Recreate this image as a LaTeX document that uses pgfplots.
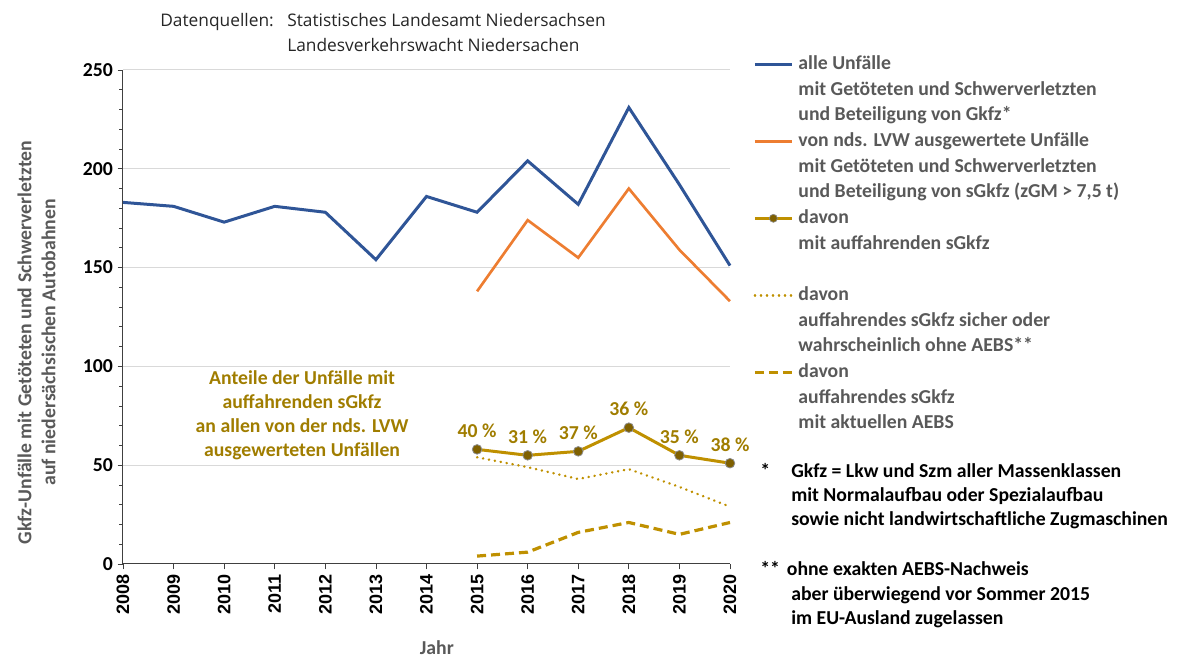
\documentclass[border=0pt]{standalone}
\usepackage{fontspec}
\setmainfont{Carlito}
\newfontfamily\arialf{Liberation Sans}
\newfontfamily\headf{Open Sans}
\usepackage{pgfplots}
\pgfplotsset{compat=1.18}
\definecolor{cblue}{HTML}{2F5597}
\definecolor{corange}{HTML}{ED7D31}
\definecolor{cgold}{HTML}{BF9000}
\definecolor{cmark}{HTML}{7F6000}
\definecolor{clab}{HTML}{A07D00}
\definecolor{cgray}{HTML}{595959}
\newcommand\fs{\fontsize{14.8pt}{18pt}\selectfont}
\begin{document}
\begin{tikzpicture}
\path[use as bounding box] (0,0) rectangle (887.25pt,495pt);
\begin{axis}[
  at={(92.25pt,72pt)}, anchor=south west,
  width=455.25pt, height=370.5pt, scale only axis,
  xmin=2008, xmax=2020, ymin=0, ymax=250,
  axis lines*=left,
  axis line style={-, draw=black!75, line width=0.75pt},
  tick align=outside,
  major tick length=4pt, minor tick length=3pt,
  every tick/.style={draw=black!75, line width=0.6pt},
  xtick={2008,2009,2010,2011,2012,2013,2014,2015,2016,2017,2018,2019,2020},
  xticklabels={2008,2009,2010,2011,2012,2013,2014,2015,2016,2017,2018,2019,2020},
  xticklabel style={rotate=90, anchor=east, font=\arialf\bfseries\fontsize{13.5pt}{14pt}\selectfont, text=black},
  ytick={0,50,100,150,200,250},
  minor y tick num=4,
  yticklabel style={font=\fs\bfseries, text=black},
  /pgf/number format/assume math mode=true,
  ymajorgrids, major grid style={draw=black!15, line width=0.75pt},
  ylabel={Gkfz-Unfälle mit Getöteten und Schwerverletzten\\auf niedersächsischen Autobahnen},
  every axis y label/.style={at={(axis description cs:-0.1425,0.4485)}, rotate=90, anchor=center, align=center, font=\fs\bfseries, text=cgray},
  xlabel={Jahr},
  every axis x label/.style={at={(axis description cs:0.517,-0.170)}, anchor=center, font=\fs\bfseries, text=cgray},
  legend style={at={(axis description cs:1.0379,1.038)}, anchor=north west, draw=none, fill=none, inner sep=0pt, row sep=0pt, column sep=0pt,
    nodes={inner sep=0pt, text height=13.6pt, text depth=5.65pt}, font=\fs\bfseries, text=cgray, cells={anchor=west},
    /tikz/every odd column/.append style={column sep=3.75pt}},
  legend cell align=left,
  legend image code/.code={\path[draw=none,fill=none] (0pt,-4pt) -- (0pt,4pt);\draw[mark repeat=2,mark phase=2,#1] plot coordinates {(0pt,0pt) (13.875pt,0pt) (27.75pt,0pt)};},
  clip=false,
]
\addplot[cblue, line width=2.25pt, forget plot] coordinates {
(2008,183) (2009,181) (2010,173) (2011,181) (2012,178) (2013,154) (2014,186)
(2015,178) (2016,204) (2017,182) (2018,231) (2019,192) (2020,151)};
\addplot[corange, line width=2pt, forget plot] coordinates {
(2015,138) (2016,174) (2017,155) (2018,190) (2019,159) (2020,133)};
\addplot[cgold, line width=1.9pt, line cap=round, dash pattern=on 0.2pt off 4.3pt, forget plot] coordinates {
(2015,54) (2016,49) (2017,43) (2018,48) (2019,39) (2020,29)};
\addplot[cgold, line width=2.4pt, dash pattern=on 6.75pt off 3.75pt, forget plot] coordinates {
(2015,4) (2016,6) (2017,16) (2018,21) (2019,15) (2020,21)};
\addplot[cgold, line width=2.25pt, mark=*, mark size=3.6pt, mark options={fill=cmark, draw=black!45, line width=0.6pt},
  point meta=explicit symbolic, nodes near coords={\pgfplotspointmeta~\%},
  every node near coord/.style={anchor=base, yshift=9pt, font=\fs\bfseries, text=clab},
  forget plot] table[x=x, y=y, meta=lab] {
x y lab
2015 58 40
2016 55 31
2017 57 37
2018 69 36
2019 55 35
2020 51 38
};
\node[align=center, font=\fs\bfseries, text=clab, inner sep=0pt] at (axis cs:2011.54,75.5) {Anteile der Unfälle mit\\auffahrenden sGkfz\\an allen von der nds. LVW\\ausgewerteten Unfällen};
\addlegendimage{cblue, line width=2.25pt}
\addlegendentry{alle Unfälle}
\addlegendimage{empty legend}
\addlegendentry{mit Getöteten und Schwerverletzten}
\addlegendimage{empty legend}
\addlegendentry{und Beteiligung von Gkfz*}
\addlegendimage{corange, line width=2pt}
\addlegendentry{von nds. LVW ausgewertete Unfälle}
\addlegendimage{empty legend}
\addlegendentry{mit Getöteten und Schwerverletzten}
\addlegendimage{empty legend}
\addlegendentry{und Beteiligung von sGkfz (zGM > 7,5 t)}
\addlegendimage{cgold, line width=2pt, mark=*, mark size=3pt, mark options={fill=cmark, draw=black!45, line width=0.5pt}}
\addlegendentry{davon}
\addlegendimage{empty legend}
\addlegendentry{mit auffahrenden sGkfz}
\addlegendimage{empty legend}
\addlegendentry{}
\addlegendimage{cgold, line width=1.9pt, line cap=round, dash pattern=on 0.2pt off 4.3pt}
\addlegendentry{davon}
\addlegendimage{empty legend}
\addlegendentry{auffahrendes sGkfz sicher oder}
\addlegendimage{empty legend}
\addlegendentry{wahrscheinlich ohne AEBS**}
\addlegendimage{cgold, line width=2.4pt, dash pattern=on 6.75pt off 3.75pt}
\addlegendentry{davon}
\addlegendimage{empty legend}
\addlegendentry{auffahrendes sGkfz}
\addlegendimage{empty legend}
\addlegendentry{mit aktuellen AEBS}
\end{axis}
% header
\begin{scope}[every node/.style={anchor=base west, inner sep=0pt, font=\headf\fontsize{13pt}{16pt}\selectfont, text=black!85}]
\node at (120pt,474.75pt) {Datenquellen:};
\node at (215.25pt,474.75pt) {Statistisches Landesamt Niedersachsen};
\node at (215.25pt,456pt) {Landesverkehrswacht Niedersachen};
\end{scope}
% footnotes
\begin{scope}[every node/.style={anchor=base west, inner sep=0pt, font=\fs\bfseries, text=black}]
\node at (570pt,136.5pt) {*};
\node at (593.25pt,136.5pt) {Gkfz = Lkw und Szm aller Massenklassen};
\node at (593.25pt,118.5pt) {mit Normalaufbau oder Spezialaufbau};
\node at (593.25pt,100.5pt) {sowie nicht landwirtschaftliche Zugmaschinen};
\node at (570pt,63pt) {**};
\node at (590pt,63pt) {ohne exakten AEBS-Nachweis};
\node at (593.25pt,44.25pt) {aber überwiegend vor Sommer 2015};
\node at (593.25pt,26.25pt) {im EU-Ausland zugelassen};
\end{scope}
\end{tikzpicture}
\end{document}
